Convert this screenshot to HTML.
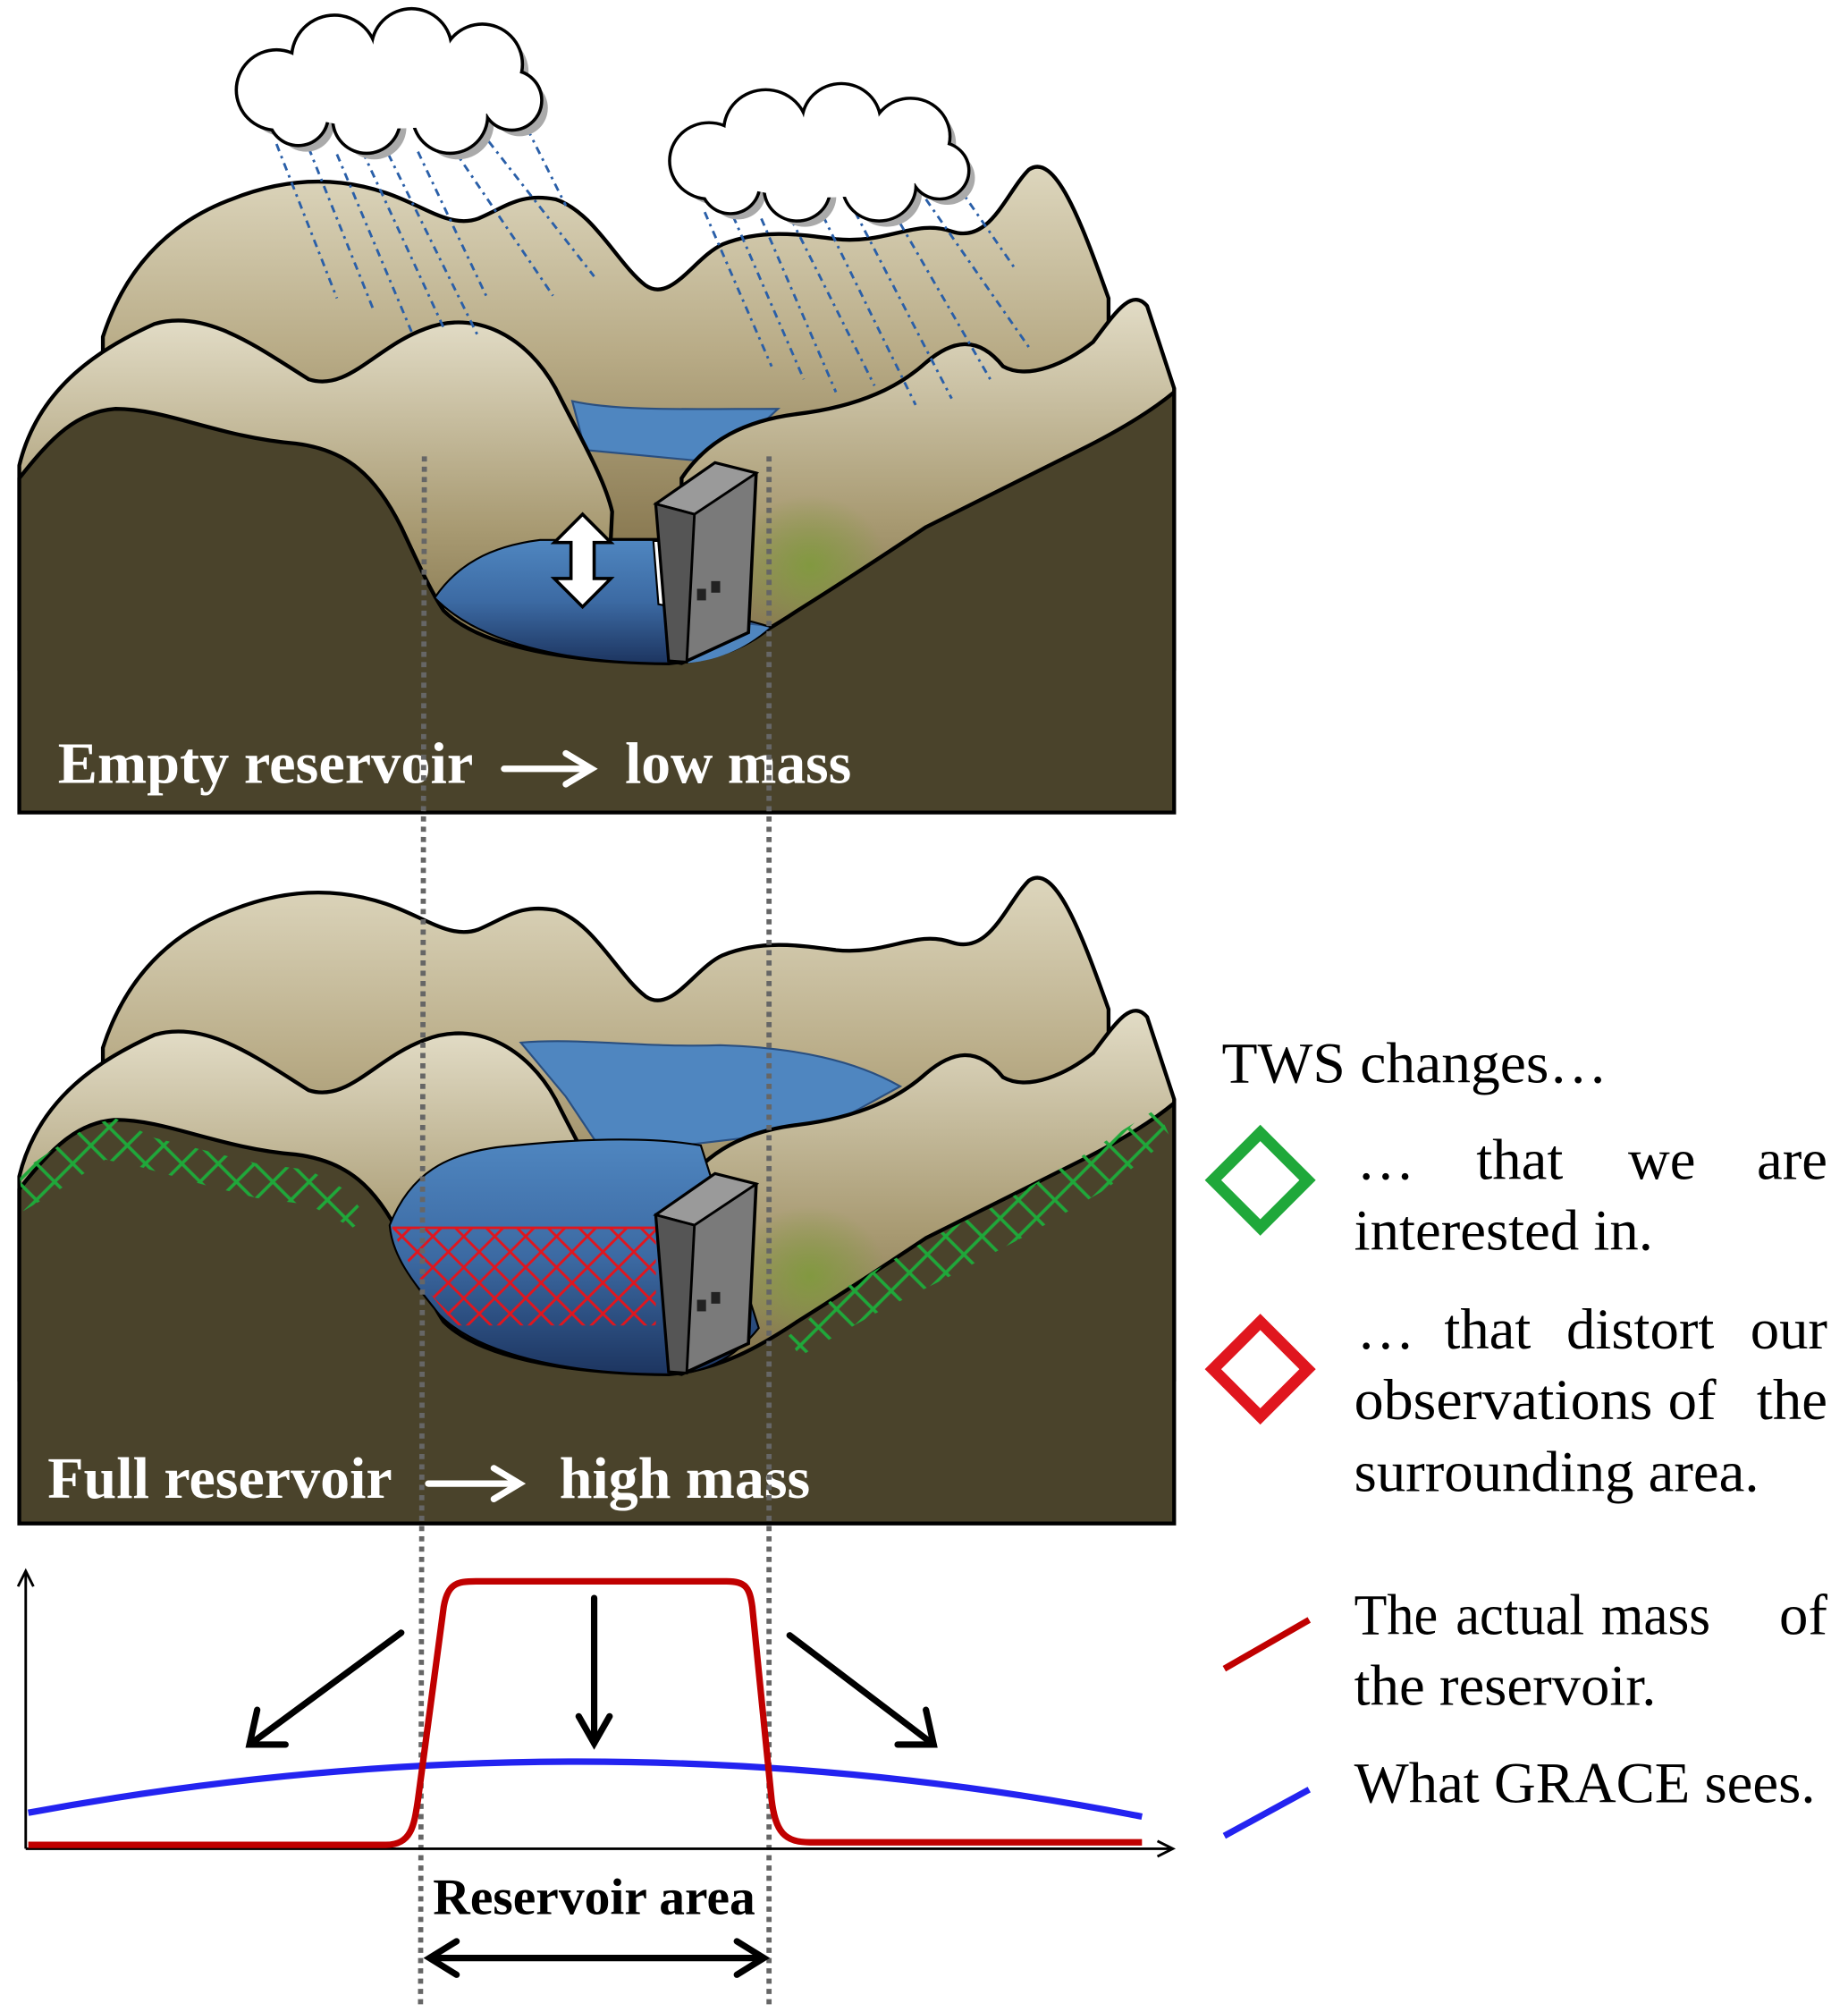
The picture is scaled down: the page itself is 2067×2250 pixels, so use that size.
<!DOCTYPE html>
<html><head><meta charset="utf-8"><style>
html,body{margin:0;padding:0;background:#fff;}
svg{display:block}
text{font-family:"Liberation Serif",serif}
</style></head><body>
<svg width="2067" height="2250" viewBox="0 0 1437 1565" preserveAspectRatio="none" xmlns="http://www.w3.org/2000/svg">
<defs>
<linearGradient id="tan" x1="0" y1="0" x2="0" y2="1">
<stop offset="0" stop-color="#ddd6bd"/><stop offset="0.5" stop-color="#b8ab86"/><stop offset="1" stop-color="#8a7a52"/></linearGradient>
<linearGradient id="tan2" x1="0" y1="0" x2="0" y2="1">
<stop offset="0" stop-color="#e2dcc6"/><stop offset="0.6" stop-color="#a89a72"/><stop offset="1" stop-color="#7d6e46"/></linearGradient>
<linearGradient id="wat" x1="0" y1="0" x2="0" y2="1">
<stop offset="0" stop-color="#4f86c0"/><stop offset="0.5" stop-color="#3c6aa3"/><stop offset="1" stop-color="#1d3560"/></linearGradient>
<radialGradient id="grn" cx="0.5" cy="0.5" r="0.5">
<stop offset="0" stop-color="#7f9a3c" stop-opacity="0.9"/><stop offset="1" stop-color="#7f9a3c" stop-opacity="0"/></radialGradient>
<pattern id="gh" width="20" height="20" patternUnits="userSpaceOnUse" patternTransform="rotate(45)">
<rect x="0" y="0" width="20" height="20" fill="none" stroke="#1fa83a" stroke-width="2.5"/></pattern>
<pattern id="rh" width="17" height="17" patternUnits="userSpaceOnUse" patternTransform="rotate(45)">
<rect x="0" y="0" width="17" height="17" fill="none" stroke="#e0161e" stroke-width="2"/></pattern>
<g id="back">
<path d="M80,262 C100,200 140,170 180,155 C230,135 270,140 300,150 C330,160 350,178 372,170 C395,160 405,150 432,155 C462,165 480,205 502,222 C522,236 540,200 562,190 C592,178 620,182 650,186 C690,190 712,170 740,180 C770,190 782,150 800,132 C820,118 840,170 862,232 L862,420 L80,420 Z" fill="url(#tan)" stroke="#000" stroke-width="3"/>
</g>
<g id="hills">
<path d="M15,362 C30,300 80,270 120,252 C160,240 200,270 240,295 C270,305 292,270 330,256 C370,240 410,262 432,302 C452,342 470,372 476,398 L470,520 L15,520 Z" fill="url(#tan2)" stroke="#000" stroke-width="3"/>
<path d="M530,372 C550,342 580,327 620,322 C670,316 700,300 720,282 C740,265 760,260 780,285 C800,296 830,282 850,266 C868,242 880,224 892,238 L913,302 L913,520 L530,520 Z" fill="url(#tan2)" stroke="#000" stroke-width="3"/>
<ellipse cx="630" cy="440" rx="60" ry="55" fill="url(#grn)"/>
</g>
<path id="block" d="M15,372 C40,340 60,320 90,318 C130,318 170,340 230,345 C270,350 292,370 312,410 C326,440 335,460 345,475 C370,500 430,515 520,516 C560,512 590,495 620,475 C660,450 690,430 720,410 C760,390 800,370 840,350 C870,335 895,320 913,305 L913,632 L15,632 Z" fill="#4a432b" stroke="#000" stroke-width="3"/>
<g id="dam">
<path d="M510,392 L556,360 L588,368 L582,492 L530,516 L520,514 Z" fill="#7a7a7a" stroke="#000" stroke-width="2.5"/>
<path d="M510,392 L556,360 L588,368 L540,400 Z" fill="#9a9a9a" stroke="#000" stroke-width="2"/>
<path d="M510,392 L540,400 L534,515 L520,514 Z" fill="#555" stroke="#000" stroke-width="2"/>
<rect x="542" y="458" width="7" height="9" fill="#222"/><rect x="553" y="452" width="7" height="9" fill="#222"/>
</g>
<g id="cloud">
<g fill="#aaa" transform="translate(6,6)">
<circle cx="215" cy="70" r="30"/><circle cx="260" cy="45" r="32"/><circle cx="320" cy="38" r="30"/><circle cx="375" cy="50" r="30"/><circle cx="398" cy="78" r="22"/><circle cx="350" cy="90" r="28"/><circle cx="285" cy="93" r="25"/><circle cx="232" cy="90" r="22"/></g>
<g fill="#fff" stroke="#000" stroke-width="5">
<circle cx="215" cy="70" r="30"/><circle cx="260" cy="45" r="32"/><circle cx="320" cy="38" r="30"/><circle cx="375" cy="50" r="30"/><circle cx="398" cy="78" r="22"/><circle cx="350" cy="90" r="28"/><circle cx="285" cy="93" r="25"/><circle cx="232" cy="90" r="22"/></g>
<g fill="#fff">
<circle cx="215" cy="70" r="30"/><circle cx="260" cy="45" r="32"/><circle cx="320" cy="38" r="30"/><circle cx="375" cy="50" r="30"/><circle cx="398" cy="78" r="22"/><circle cx="350" cy="90" r="28"/><circle cx="285" cy="93" r="25"/><circle cx="232" cy="90" r="22"/><ellipse cx="305" cy="68" rx="95" ry="32"/></g>
</g>
</defs>

<!-- panel 1 -->
<use href="#back"/>
<path d="M445,312 C480,320 540,318 605,318 L560,360 L455,350 Z" fill="#4f86c0" stroke="#2a4f80" stroke-width="1.5"/>
<use href="#hills"/>
<use href="#block"/>
<path d="M338,465 C355,440 380,425 420,420 L508,420 L512,470 C540,476 570,478 600,488 C580,505 550,516 520,516 C440,516 372,500 338,465 Z" fill="url(#wat)" stroke="#000" stroke-width="1.5"/>
<path d="M530,505 C545,490 570,482 598,488 C580,505 555,515 530,516 Z" fill="#4f86c0"/>
<use href="#dam"/>
<path d="M453,400 L475,422 L462,422 L462,450 L475,450 L453,472 L431,450 L444,450 L444,422 L431,422 Z" fill="#fff" stroke="#000" stroke-width="2.5"/>

<!-- rain -->
<g stroke="#2a5fa8" stroke-width="2" stroke-dasharray="6,4,2,4" fill="none">
<line x1="215" y1="112" x2="262" y2="232"/><line x1="240" y1="115" x2="290" y2="240"/><line x1="262" y1="120" x2="320" y2="258"/><line x1="282" y1="118" x2="345" y2="255"/><line x1="302" y1="120" x2="372" y2="262"/><line x1="325" y1="118" x2="378" y2="230"/><line x1="352" y1="115" x2="430" y2="230"/><line x1="380" y1="110" x2="462" y2="215"/><line x1="410" y1="100" x2="440" y2="160"/>
<line x1="548" y1="165" x2="600" y2="285"/><line x1="570" y1="168" x2="625" y2="295"/><line x1="592" y1="170" x2="650" y2="305"/><line x1="615" y1="170" x2="680" y2="300"/><line x1="640" y1="168" x2="712" y2="315"/><line x1="665" y1="165" x2="740" y2="310"/><line x1="692" y1="160" x2="770" y2="295"/><line x1="720" y1="155" x2="800" y2="270"/><line x1="745" y1="145" x2="790" y2="210"/>
</g>

<!-- panel 2 -->
<g transform="translate(0,553)">
<use href="#back"/>
<path d="M405,258 C450,254 500,262 560,260 C620,262 665,272 700,292 L640,325 L470,345 L440,300 Z" fill="#4f86c0" stroke="#2a4f80" stroke-width="1.5"/>
<use href="#hills"/>
<use href="#block"/>
<path d="M303,400 C318,362 345,342 400,338 C440,334 500,330 545,338 L590,480 C570,505 545,516 520,516 C440,516 372,500 342,470 C322,445 305,425 303,400 Z" fill="url(#wat)" stroke="#000" stroke-width="1.5"/>
<path d="M305,402 L510,402 L510,478 L355,478 C335,455 315,430 305,402 Z" fill="url(#rh)"/>
<line x1="305" y1="402" x2="510" y2="402" stroke="#e0161e" stroke-width="2"/>
<use href="#dam"/>
</g>
<path d="M15,912 L40,895 L70,875 L90,870 L120,885 L160,895 L200,905 L240,910 L268,925 L286,947 L274,955 L240,937 L200,932 L160,922 L110,908 L82,902 L42,928 L18,942 Z" fill="url(#gh)"/>
<path d="M612,1040 L660,1000 L720,965 L780,935 L840,900 L900,862 L910,885 L860,925 L800,960 L740,992 L680,1022 L622,1055 Z" fill="url(#gh)"/>

<!-- panel labels -->
<g fill="#fff" font-weight="bold" font-size="46">
<text x="45" y="609" textLength="323" lengthAdjust="spacingAndGlyphs">Empty reservoir</text><text x="486" y="609" textLength="176" lengthAdjust="spacingAndGlyphs">low mass</text>
<text x="37" y="1165" textLength="268" lengthAdjust="spacingAndGlyphs">Full reservoir</text><text x="435" y="1165" textLength="195" lengthAdjust="spacingAndGlyphs">high mass</text>
</g>
<g stroke="#fff" stroke-width="5" fill="none" stroke-linecap="round">
<line x1="392" y1="598" x2="458" y2="598"/><polyline points="440,586 460,598 440,610"/>
<line x1="333" y1="1154" x2="402" y2="1154"/><polyline points="384,1142 404,1154 384,1166"/>
</g>

<!-- dotted guides -->
<g stroke="#666" stroke-width="4" stroke-dasharray="4,4">
<line x1="330" y1="355" x2="327" y2="1560"/><line x1="598" y1="355" x2="598" y2="1560"/>
</g>

<!-- chart -->
<g stroke="#000" stroke-width="2" fill="none">
<line x1="20" y1="1438" x2="20" y2="1222"/><polyline points="14,1234 20,1222 26,1234"/>
<line x1="20" y1="1438" x2="912" y2="1438"/><polyline points="900,1432 912,1438 900,1444"/>
</g>
<path d="M22,1410 Q460,1329 888,1413" stroke="#2323f0" stroke-width="5" fill="none"/>
<path d="M22,1435 L300,1435 C320,1435 322,1420 325,1400 L345,1250 C348,1232 355,1230 370,1230 L565,1230 C580,1230 583,1235 585,1250 L600,1400 C603,1425 610,1433 630,1433 L888,1433" stroke="#c00000" stroke-width="5" fill="none"/>
<g stroke="#000" stroke-width="5" fill="none" stroke-linecap="round">
<line x1="312" y1="1270" x2="194" y2="1357"/><polyline points="200,1330 194,1357 222,1357"/>
<line x1="462" y1="1243" x2="462" y2="1356"/><polyline points="450,1335 462,1356 474,1335"/>
<line x1="614" y1="1272" x2="726" y2="1357"/><polyline points="698,1357 726,1357 720,1330"/>
<line x1="336" y1="1523" x2="592" y2="1523"/><polyline points="355,1510 334,1523 355,1536"/><polyline points="573,1510 594,1523 573,1536"/>
</g>
<text x="462" y="1489" text-anchor="middle" font-weight="bold" font-size="40">Reservoir area</text>

<!-- legend -->
<g font-size="45" fill="#000">
<text x="950" y="842" textLength="300" lengthAdjust="spacingAndGlyphs">TWS changes…</text>
<text x="1055" y="917">…</text><text x="1148" y="917">that</text><text x="1266" y="917">we</text><text x="1421" y="917" text-anchor="end">are</text>
<text x="1053" y="972">interested in.</text>
<text x="1055" y="1049">…</text><text x="1123" y="1049">that</text><text x="1218" y="1049">distort</text><text x="1421" y="1049" text-anchor="end">our</text>
<text x="1053" y="1104" textLength="232" lengthAdjust="spacingAndGlyphs">observations</text><text x="1297" y="1104">of</text><text x="1421" y="1104" text-anchor="end">the</text>
<text x="1053" y="1160">surrounding area.</text>
<text x="1053" y="1271" textLength="65" lengthAdjust="spacingAndGlyphs">The</text><text x="1132" y="1271" textLength="100" lengthAdjust="spacingAndGlyphs">actual</text><text x="1245" y="1271" textLength="85" lengthAdjust="spacingAndGlyphs">mass</text><text x="1421" y="1271" text-anchor="end">of</text>
<text x="1053" y="1326">the reservoir.</text>
<text x="1053" y="1402">What GRACE sees.</text>
</g>
<rect x="954" y="892" width="52" height="52" transform="rotate(45 980 918)" fill="none" stroke="#1fa83a" stroke-width="9"/>
<rect x="954" y="1039" width="52" height="52" transform="rotate(45 980 1065)" fill="none" stroke="#e0161e" stroke-width="9"/>
<line x1="952" y1="1298" x2="1018" y2="1260" stroke="#c00000" stroke-width="5"/>
<line x1="952" y1="1428" x2="1018" y2="1392" stroke="#2323f0" stroke-width="5"/>

<!-- clouds -->
<use href="#cloud"/>
<g transform="translate(517,70) scale(0.98,0.95) translate(-180,-12)"><use href="#cloud"/></g>
</svg>
</body></html>
